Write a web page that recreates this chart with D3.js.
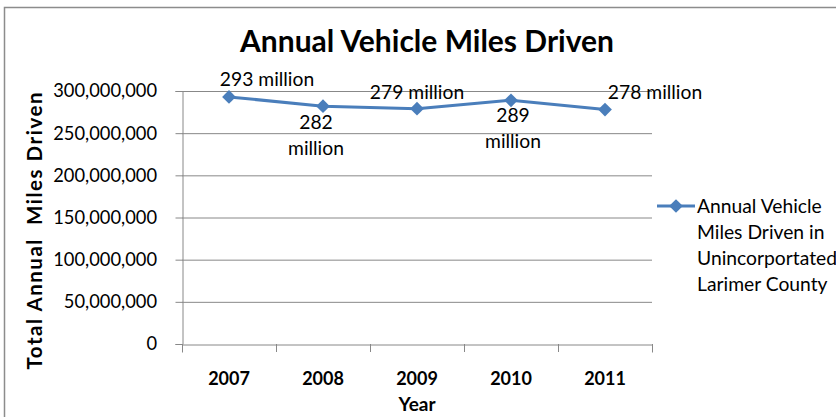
<!DOCTYPE html>
<html><head><meta charset="utf-8">
<script src="https://cdn.jsdelivr.net/npm/d3@7"></script>
<style>body{margin:0;background:#fff}svg{display:block}text{font-family:Lato, "Open Sans", sans-serif;fill:#000;white-space:pre}</style>
</head><body><svg id="c" width="836" height="417"></svg>
<script>
const years = ["2007","2008","2009","2010","2011"];
const miles = [293000000, 282000000, 279000000, 289000000, 278000000];
const labels = [["293 million"],["282","million"],["279 million"],["289","million"],["278 million"]];
const yTicks = [0,50000000,100000000,150000000,200000000,250000000,300000000];
const title = "Annual Vehicle Miles Driven";
const yTitle = "Total Annual  Miles Driven";
const xTitle = "Year";
const legendLines = ["Annual Vehicle","Miles Driven in","Unincorportated","Larimer County"];

const svg = d3.select("#c");
svg.append("rect").attr("x",4.5).attr("y",7.5).attr("width",900).attr("height",500)
  .attr("fill","#fff").attr("stroke","#8c8c8c").attr("stroke-width",1.5);

const L=182, R=652, T=91, B=344;
const x = d3.scaleBand().domain(years).range([L,R]);
const y = d3.scaleLinear().domain([0,300000000]).range([B,T]);

// gridlines
svg.append("g").selectAll("line").data(yTicks.filter(d=>d>0)).join("line")
  .attr("x1",L).attr("x2",R).attr("y1",d=>y(d)+0.5).attr("y2",d=>y(d)+0.5)
  .attr("stroke","#888").attr("stroke-width",1);

const fmt = d3.format(",");
const yAx = svg.append("g").attr("transform",`translate(${L+0.5},0)`)
  .call(d3.axisLeft(y).tickValues(yTicks).tickFormat(fmt).tickSize(7).tickPadding(18.5));
yAx.select(".domain").attr("stroke","#888");
yAx.selectAll("line").attr("stroke","#888");
yAx.selectAll("text").attr("font-size",18.3).attr("fill","#000").style("font-family","Lato");

const xAx = svg.append("g").attr("transform",`translate(0,${B+0.5})`)
  .call(d3.axisBottom(x).tickSize(8).tickPadding(20));
xAx.select(".domain").attr("stroke","#888");
xAx.selectAll(".tick line").remove();
svg.append("g").selectAll("line").data(d3.range(years.length+1)).join("line")
  .attr("x1",i=>L+0.5+i*x.step()).attr("x2",i=>L+0.5+i*x.step())
  .attr("y1",B).attr("y2",B+8).attr("stroke","#888");
xAx.selectAll("text").attr("font-size",18).attr("font-weight","bold").attr("fill","#000").style("font-family","Lato");

// titles
svg.append("text").attr("x",427).attr("y",52).attr("text-anchor","middle")
  .attr("font-size",30).attr("font-weight","bold").text(title);
svg.append("text").attr("transform","translate(42,231) rotate(-90)").attr("text-anchor","middle")
  .attr("font-size",20.5).attr("font-weight","bold").attr("textLength",277).text(yTitle);
svg.append("text").attr("x",417).attr("y",411).attr("text-anchor","middle")
  .attr("font-size",19).attr("font-weight","bold").text(xTitle);

// line
const cx = d=>x(d)+x.bandwidth()/2;
const line = d3.line().x((d,i)=>cx(years[i])).y(d=>y(d));
svg.append("path").datum(miles).attr("d",line).attr("fill","none")
  .attr("stroke","#4a7ebb").attr("stroke-width",3);
const diamond = d3.symbol().type(d3.symbolDiamond2).size(120);
svg.append("g").selectAll("path").data(miles).join("path")
  .attr("transform",(d,i)=>`translate(${cx(years[i])},${y(d)})`)
  .attr("d",diamond).attr("fill","#4a7ebb");

// data labels
const off = [[38,-11],[-7,23],[0,-10],[2,22],[50,-11]];
labels.forEach((ls,i)=>{
  const px = cx(years[i])+off[i][0];
  ls.forEach((s,j)=>{
    svg.append("text").attr("text-anchor","middle").attr("font-size",19.3)
      .attr("x",px).attr("y",y(miles[i])+off[i][1]+j*26).text(s);
  });
});

// legend
svg.append("line").attr("x1",657).attr("x2",695).attr("y1",206).attr("y2",206)
  .attr("stroke","#4a7ebb").attr("stroke-width",3);
svg.append("path").attr("transform","translate(676,206)").attr("d",diamond).attr("fill","#4a7ebb");
const lt = svg.append("text").attr("font-size",19.3).attr("x",697).attr("y",213);
legendLines.forEach((s,j)=>lt.append("tspan").attr("x",697).attr("dy",j?26:0).text(s));
</script></body></html>
